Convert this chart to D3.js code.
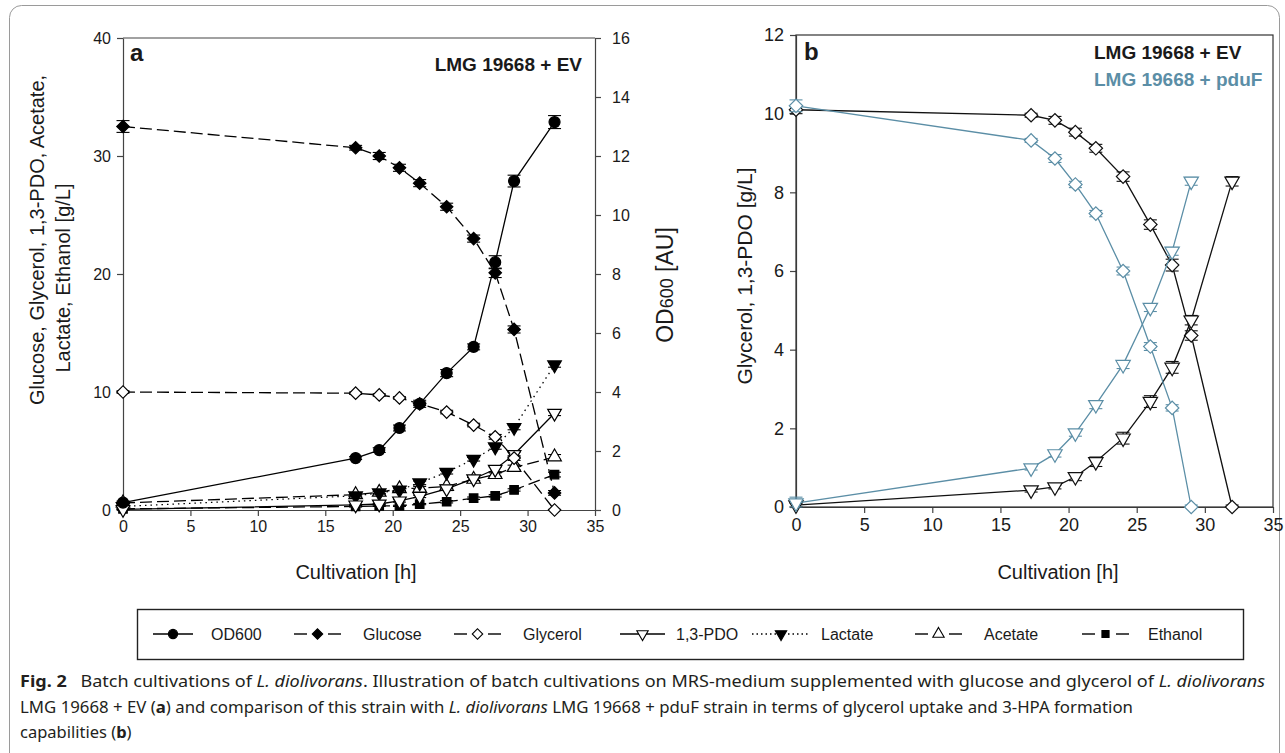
<!DOCTYPE html>
<html>
<head>
<meta charset="utf-8">
<script src="https://cdn.jsdelivr.net/npm/d3@7"></script>
<style>
  body { margin: 0; background: #fff; }
  svg { display: block; }
  text { font-family: Arial, "Liberation Sans", sans-serif; fill: #1a1a1a; }
</style>
</head>
<body>
<script>
// sampling times [h]
var hours = [0, 17.25, 19, 20.5, 22, 24, 26, 27.6, 29, 32];
var hoursPduF = [0, 17.25, 19, 20.5, 22, 24, 26, 27.6, 29];

// panel a, LMG 19668 + EV
var od600 = [0.25, 1.76, 2.03, 2.78, 3.6, 4.64, 5.53, 8.4, 11.15, 13.15];
var od600Err = [0.05, 0.05, 0.08, 0.1, 0.12, 0.12, 0.1, 0.22, 0.2, 0.22];
var glucose = [32.5, 30.7, 30.0, 29.0, 27.7, 25.7, 23.0, 20.1, 15.3, 1.45];
var glucoseErr = [0.5, 0.2, 0.3, 0.3, 0.3, 0.3, 0.3, 0.4, 0.3, 0.2];
var glycerolA = [10.0, 9.9, 9.75, 9.5, 9.0, 8.3, 7.2, 6.2, 4.4, 0.0];
var glycerolAErr = [0.1, 0.1, 0.1, 0.1, 0.15, 0.15, 0.15, 0.2, 0.2, 0.05];
var pdoA = [0.05, 0.43, 0.51, 0.77, 1.15, 1.8, 2.65, 3.45, 4.7, 8.2];
var pdoAErr = [0.05, 0.05, 0.05, 0.1, 0.1, 0.15, 0.15, 0.2, 0.2, 0.2];
var lactate = [0.3, 1.2, 1.45, 1.7, 2.3, 3.2, 4.3, 5.35, 7.0, 12.3];
var lactateErr = [0.05, 0.1, 0.1, 0.1, 0.15, 0.15, 0.15, 0.2, 0.2, 0.2];
var acetate = [0.6, 1.3, 1.5, 1.8, 1.85, 2.0, 2.6, 3.0, 3.6, 4.5];
var acetateErr = [0.05, 0.1, 0.1, 0.15, 0.15, 0.15, 0.15, 0.15, 0.2, 0.2];
var ethanol = [0.1, 0.3, 0.35, 0.35, 0.5, 0.7, 1.0, 1.2, 1.7, 3.0];
var ethanolErr = [0.05, 0.05, 0.05, 0.05, 0.05, 0.1, 0.1, 0.1, 0.1, 0.2];

// panel b, glycerol uptake and 1,3-PDO formation
var glycerolEV = [10.1, 9.96, 9.83, 9.53, 9.12, 8.4, 7.18, 6.15, 4.36, 0.0];
var glycerolEVErr = [0.1, 0.05, 0.1, 0.1, 0.1, 0.12, 0.12, 0.15, 0.12, 0.05];
var pdoEV = [0.05, 0.43, 0.51, 0.77, 1.15, 1.75, 2.68, 3.55, 4.75, 8.28];
var pdoEVErr = [0.05, 0.05, 0.05, 0.1, 0.12, 0.15, 0.15, 0.15, 0.12, 0.12];
var glycerolPduF = [10.2, 9.32, 8.86, 8.2, 7.46, 6.0, 4.08, 2.52, 0.0];
var glycerolPduFErr = [0.15, 0.05, 0.1, 0.08, 0.08, 0.1, 0.1, 0.08, 0.05];
var pdoPduF = [0.1, 0.99, 1.35, 1.88, 2.6, 3.62, 5.07, 6.5, 8.28];
var pdoPduFErr = [0.15, 0.05, 0.08, 0.08, 0.1, 0.1, 0.1, 0.1, 0.1];

// tick values
var xTicks = [0, 5, 10, 15, 20, 25, 30, 35];
var yTicksA = [0, 10, 20, 30, 40];
var yTicksA2 = [0, 2, 4, 6, 8, 10, 12, 14, 16];
var yTicksB = [0, 2, 4, 6, 8, 10, 12];

var legendNames = ['OD600', 'Glucose', 'Glycerol', '1,3-PDO', 'Lactate', 'Acetate', 'Ethanol'];

var width = 1285;
var height = 753;
var blue = '#5b8ea6';

var svg = d3.select('body')
  .append('svg')
  .attr('width', width)
  .attr('height', height);

// outer figure frame
svg.append('rect')
  .attr('x', 9.5).attr('y', 5.5)
  .attr('width', 1270).attr('height', 800)
  .attr('rx', 12)
  .attr('fill', 'none')
  .attr('stroke', '#9a9a9a')
  .attr('stroke-width', 1);

// symbols
var shapes = {
  circle: { type: d3.symbolCircle, size: 95, rot: 0 },
  diamond: { type: d3.symbolSquare, size: 78, rot: 45 },
  triUp: { type: d3.symbolTriangle, size: 80, rot: 0 },
  triDown: { type: d3.symbolTriangle, size: 80, rot: 180 },
  square: { type: d3.symbolSquare, size: 72, rot: 0 }
};

function drawSeries(g, x, y, t, vals, errs, st) {
  var line = d3.line()
    .x(function (d, i) { return x(t[i]); })
    .y(function (d) { return y(d); });

  g.append('path')
    .attr('d', line(vals))
    .attr('fill', 'none')
    .attr('stroke', st.color)
    .attr('stroke-width', 1.3)
    .attr('stroke-dasharray', st.dash || null);

  var eb = g.append('g').attr('stroke', st.color).attr('stroke-width', 1.1);
  vals.forEach(function (v, i) {
    var cx = x(t[i]);
    var y1 = y(v + errs[i]), y0 = y(Math.max(0, v - errs[i]));
    eb.append('line').attr('x1', cx).attr('x2', cx).attr('y1', y1).attr('y2', y0);
    eb.append('line').attr('x1', cx - 6.5).attr('x2', cx + 6.5).attr('y1', y1).attr('y2', y1);
    eb.append('line').attr('x1', cx - 6.5).attr('x2', cx + 6.5).attr('y1', y0).attr('y2', y0);
  });

  var sh = shapes[st.shape];
  g.append('g')
    .selectAll('path')
    .data(vals)
    .enter()
    .append('path')
    .attr('d', d3.symbol().type(sh.type).size(st.size || sh.size))
    .attr('transform', function (d, i) {
      return 'translate(' + x(t[i]) + ',' + y(d) + ') rotate(' + sh.rot + ')';
    })
    .attr('fill', st.filled ? st.color : '#fff')
    .attr('stroke', st.color)
    .attr('stroke-width', 1.2);
}

function styleAxis(g, fs) {
  g.selectAll('path').attr('stroke', '#444').attr('stroke-width', 1.2);
  g.selectAll('line').attr('stroke', '#444').attr('stroke-width', 1.2);
  g.selectAll('text').attr('font-size', fs + 'px').attr('fill', '#1a1a1a')
    .attr('font-family', 'Arial, "Liberation Sans", sans-serif');
}

// ---------------- panel a ----------------
var xA = d3.scaleLinear().domain([0, 35]).range([123, 595]);
var yA = d3.scaleLinear().domain([0, 40]).range([510, 38]);
var yA2 = d3.scaleLinear().domain([0, 16]).range([510, 38]);

var gA = svg.append('g');

gA.append('g')
  .attr('transform', 'translate(0,510)')
  .call(d3.axisBottom(xA).tickValues(xTicks).tickSize(6).tickPadding(5).tickSizeOuter(0))
  .call(styleAxis, 16);
gA.append('g')
  .attr('transform', 'translate(123,0)')
  .call(d3.axisLeft(yA).tickValues(yTicksA).tickSize(6).tickPadding(6).tickSizeOuter(0))
  .call(styleAxis, 16);
gA.append('g')
  .attr('transform', 'translate(595,0)')
  .call(d3.axisRight(yA2).tickValues(yTicksA2).tickSize(6).tickPadding(11).tickSizeOuter(0))
  .call(styleAxis, 16);
gA.append('line')
  .attr('x1', 123).attr('x2', 595).attr('y1', 38).attr('y2', 38)
  .attr('stroke', '#444').attr('stroke-width', 1.2);

var dash = '12,5';
drawSeries(gA, xA, yA, hours, ethanol, ethanolErr, { color: '#000', dash: dash, shape: 'square', filled: true });
drawSeries(gA, xA, yA, hours, acetate, acetateErr, { color: '#000', dash: dash, shape: 'triUp', filled: false });
drawSeries(gA, xA, yA, hours, lactate, lactateErr, { color: '#000', dash: '1.5,4', shape: 'triDown', filled: true });
drawSeries(gA, xA, yA, hours, pdoA, pdoAErr, { color: '#000', shape: 'triDown', filled: false });
drawSeries(gA, xA, yA, hours, glycerolA, glycerolAErr, { color: '#000', dash: dash, shape: 'diamond', filled: false });
drawSeries(gA, xA, yA, hours, glucose, glucoseErr, { color: '#000', dash: dash, shape: 'diamond', filled: true });
drawSeries(gA, xA, yA2, hours, od600, od600Err, { color: '#000', shape: 'circle', filled: true });

gA.append('text').attr('x', 130).attr('y', 61)
  .attr('font-size', '24px').attr('font-weight', 'bold').text('a');
gA.append('text').attr('x', 582).attr('y', 71).attr('text-anchor', 'end')
  .attr('font-size', '19px').attr('font-weight', 'bold').text('LMG 19668 + EV');

gA.append('text').attr('x', 356).attr('y', 579).attr('text-anchor', 'middle')
  .attr('font-size', '20px').text('Cultivation [h]');
gA.append('text').attr('transform', 'translate(44,240) rotate(-90)')
  .attr('text-anchor', 'middle').attr('font-size', '20px')
  .text('Glucose, Glycerol, 1,3-PDO, Acetate,');
gA.append('text').attr('transform', 'translate(70,278) rotate(-90)')
  .attr('text-anchor', 'middle').attr('font-size', '20px')
  .text('Lactate, Ethanol [g/L]');
var odT = gA.append('text').attr('transform', 'translate(673,285) rotate(-90)')
  .attr('text-anchor', 'middle').attr('font-size', '23px');
odT.append('tspan').text('OD');
odT.append('tspan').attr('font-size', '18px').text('600');
odT.append('tspan').text(' [AU]');

// ---------------- panel b ----------------
var xB = d3.scaleLinear().domain([0, 35]).range([796, 1273]);
var yB = d3.scaleLinear().domain([0, 12]).range([507, 35]);

var gB = svg.append('g');
gB.append('g')
  .attr('transform', 'translate(0,507)')
  .call(d3.axisBottom(xB).tickValues(xTicks).tickSize(6).tickPadding(5).tickSizeOuter(0))
  .call(styleAxis, 18);
gB.append('g')
  .attr('transform', 'translate(796,0)')
  .call(d3.axisLeft(yB).tickValues(yTicksB).tickSize(6).tickPadding(6).tickSizeOuter(0))
  .call(styleAxis, 18);
gB.append('rect')
  .attr('x', 796).attr('y', 35).attr('width', 477).attr('height', 472)
  .attr('fill', 'none').attr('stroke', '#333').attr('stroke-width', 1.2);

drawSeries(gB, xB, yB, hours, glycerolEV, glycerolEVErr, { color: '#111', shape: 'diamond', filled: false, size: 90 });
drawSeries(gB, xB, yB, hours, pdoEV, pdoEVErr, { color: '#111', shape: 'triDown', filled: false, size: 90 });
drawSeries(gB, xB, yB, hoursPduF, glycerolPduF, glycerolPduFErr, { color: blue, shape: 'diamond', filled: false, size: 90 });
drawSeries(gB, xB, yB, hoursPduF, pdoPduF, pdoPduFErr, { color: blue, shape: 'triDown', filled: false, size: 90 });

gB.append('text').attr('x', 804).attr('y', 60)
  .attr('font-size', '24px').attr('font-weight', 'bold').text('b');
gB.append('text').attr('x', 1094).attr('y', 59)
  .attr('font-size', '19px').attr('font-weight', 'bold').text('LMG 19668 + EV');
gB.append('text').attr('x', 1094).attr('y', 86)
  .attr('font-size', '19px').attr('font-weight', 'bold').style('fill', blue).text('LMG 19668 + pduF');

gB.append('text').attr('x', 1058).attr('y', 579).attr('text-anchor', 'middle')
  .attr('font-size', '20px').text('Cultivation [h]');
gB.append('text').attr('transform', 'translate(752,276) rotate(-90)')
  .attr('text-anchor', 'middle').attr('font-size', '21px')
  .text('Glycerol, 1,3-PDO [g/L]');

// ---------------- legend ----------------
// line kind: solid, split (one dash either side of the marker), dotted
var legendStyles = [
  { shape: 'circle', filled: true, kind: 'solid' },
  { shape: 'diamond', filled: true, kind: 'split' },
  { shape: 'diamond', filled: false, kind: 'split' },
  { shape: 'triDown', filled: false, kind: 'solid' },
  { shape: 'triDown', filled: true, kind: 'dotted' },
  { shape: 'triUp', filled: false, kind: 'split' },
  { shape: 'square', filled: true, kind: 'split' }
];
// legend layout: line start, line end, label start
var legendLineX = [[153, 193], [294, 341], [454, 501], [620, 665], [752, 810], [915, 962], [1082, 1129]];
var legendTextX = [211, 363, 523, 676, 821, 984, 1148];

var gL = svg.append('g');
gL.append('rect')
  .attr('x', 137.5).attr('y', 609.5).attr('width', 1106).attr('height', 50)
  .attr('fill', 'none').attr('stroke', '#222').attr('stroke-width', 1.4);

legendNames.forEach(function (name, i) {
  var st = legendStyles[i], lx = legendLineX[i], yy = 634;
  var segs = st.kind === 'split' ? [[lx[0], lx[0] + 13], [lx[1] - 13, lx[1]]] : [lx];
  segs.forEach(function (s) {
    gL.append('line')
      .attr('x1', s[0]).attr('x2', s[1]).attr('y1', yy).attr('y2', yy)
      .attr('stroke', '#000').attr('stroke-width', 1.4)
      .attr('stroke-dasharray', st.kind === 'dotted' ? '1.5,3' : null);
  });
  var sh = shapes[st.shape];
  gL.append('path')
    .attr('d', d3.symbol().type(sh.type).size(sh.size * 0.7))
    .attr('transform', 'translate(' + ((lx[0] + lx[1]) / 2) + ',' + yy + ') rotate(' + sh.rot + ')')
    .attr('fill', st.filled ? '#000' : '#fff')
    .attr('stroke', '#000').attr('stroke-width', 1.1);
  gL.append('text')
    .attr('x', legendTextX[i]).attr('y', yy + 6)
    .attr('font-size', '16px').text(name);
});

// ---------------- caption ----------------
var captionLines = [
  [['Fig. 2', 'b'], ['\u2002 Batch cultivations of ', ''], ['L. diolivorans', 'i'], ['. Illustration of batch cultivations on MRS-medium supplemented with glucose and glycerol of ', ''], ['L. diolivorans', 'i']],
  [['LMG 19668 + EV (', ''], ['a', 'b'], [') and comparison of this strain with ', ''], ['L. diolivorans', 'i'], [' LMG 19668 + pduF strain in terms of glycerol uptake and 3-HPA formation', '']],
  [['capabilities (', ''], ['b', 'b'], [')', '']]
];
var captionLen = [1245, 1113, null];

captionLines.forEach(function (parts, li) {
  var t = svg.append('text')
    .attr('x', 20).attr('y', 687 + li * 25.5)
    .attr('font-size', '16.5px')
    .style('font-family', '"Noto Sans", "Open Sans", sans-serif')
    .style('fill', '#231f20')
    .attr('xml:space', 'preserve');
  if (captionLen[li]) t.attr('textLength', captionLen[li]).attr('lengthAdjust', 'spacingAndGlyphs');
  parts.forEach(function (p) {
    t.append('tspan')
      .attr('font-weight', p[1] === 'b' ? 'bold' : null)
      .attr('font-style', p[1] === 'i' ? 'italic' : null)
      .text(p[0]);
  });
});
</script>
</body>
</html>
